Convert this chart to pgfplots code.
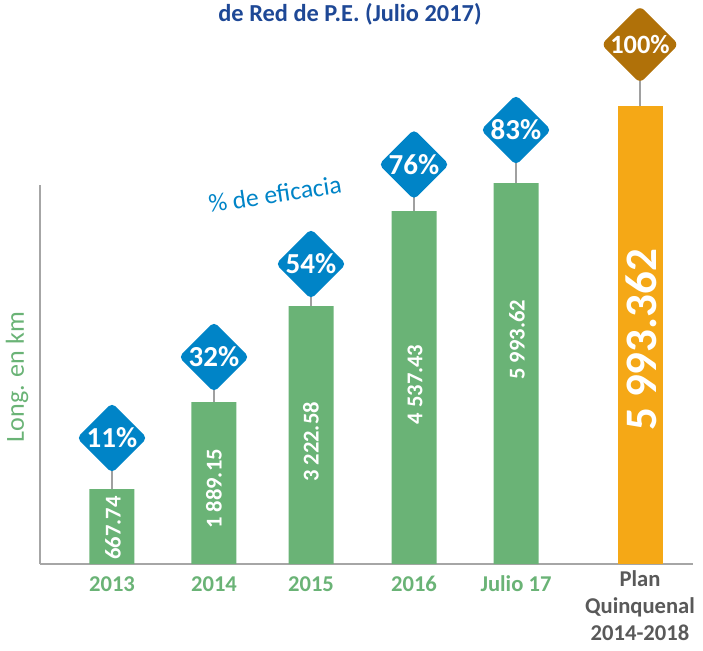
\documentclass[border=0pt]{standalone}
\usepackage{pgfplots}
\pgfplotsset{compat=1.18}
\usepackage{fontspec}
\setmainfont{Carlito}
\usetikzlibrary{shapes.geometric}
\definecolor{barg}{RGB}{106,179,118}
\definecolor{barorange}{RGB}{245,168,22}
\definecolor{dblue}{RGB}{0,132,199}
\definecolor{dbrown}{RGB}{176,113,9}
\definecolor{titleblue}{RGB}{30,72,150}
\definecolor{axgray}{RGB}{166,166,166}
\definecolor{conngray}{RGB}{160,160,160}
\definecolor{tgray}{RGB}{89,89,89}
\definecolor{tgreen}{RGB}{106,179,118}
\newcommand{\tl}[1]{\rule{0pt}{10.3pt}\color{tgreen}#1}
\begin{document}
\begin{tikzpicture}
\begin{axis}[
  x=0.5pt, y=0.5pt,
  xmin=40, xmax=693, ymin=0, ymax=379,
  axis x line=bottom, axis y line=left,
  axis line style={-, draw=axgray, line width=1.25pt},
  ytick=\empty,
  xtick={112,214,311,414,516,640},
  xticklabels={{\tl{2013}},{\tl{2014}},{\tl{2015}},{\tl{2016}},{\tl{Julio 17}},{\color{tgray}Plan\\\color{tgray}Quinquenal\\\color{tgray}2014-2018}},
  major tick length=0pt,
  xticklabel style={anchor=north, align=center, font=\bfseries\fontsize{11.3}{13.5}\selectfont, yshift=0pt},
  clip=false,
]
% connectors
\addplot[ycomb, draw=conngray, line width=1.3pt, mark=none] coordinates {
 (112,126) (214,207) (311,300) (414,399) (516,434) (640,519)
};
% bars
\addplot[ybar, bar width=45, fill=barg, draw=none] coordinates {
 (112,75) (214,162) (311,258) (414,353) (516,381)
};
\addplot[ybar, bar width=45, fill=barorange, draw=none] coordinates {
 (640,458)
};
% diamonds
\addplot[only marks, mark=*, mark size=0pt, point meta=explicit symbolic,
  nodes near coords,
  every node near coord/.style={diamond, fill=dblue, rounded corners=2.5pt,
    minimum width=31pt, minimum height=31pt, inner sep=0pt, anchor=center,
    text=white, font=\bfseries\fontsize{14.5}{15}\selectfont}]
 coordinates {
 (112,126) [11\%]
 (214,207) [32\%]
 (311,300) [54\%]
 (414,399.5) [76\%]
 (516,434) [83\%]
};
\addplot[only marks, mark=*, mark size=0pt, point meta=explicit symbolic,
  nodes near coords,
  every node near coord/.style={diamond, fill=dbrown, rounded corners=3pt,
    minimum width=37pt, minimum height=37pt, inner sep=0pt, anchor=center,
    text=white, font=\bfseries\fontsize{13.2}{14}\selectfont}]
 coordinates {
 (640,519.5) [100\%]
};
% bar value labels
\node[rotate=90, text=white, font=\bfseries\fontsize{11.3}{12}\selectfont] at (axis cs:113,36) {667.74};
\node[rotate=90, text=white, font=\bfseries\fontsize{11.3}{12}\selectfont] at (axis cs:214,75) {1 889.15};
\node[rotate=90, text=white, font=\bfseries\fontsize{11.3}{12}\selectfont] at (axis cs:311,122) {3 222.58};
\node[rotate=90, text=white, font=\bfseries\fontsize{11.3}{12}\selectfont] at (axis cs:415,179.5) {4 537.43};
\node[rotate=90, text=white, font=\bfseries\fontsize{11.3}{12}\selectfont] at (axis cs:517,224) {5 993.62};
\node[rotate=90, text=white, font=\bfseries\fontsize{22.5}{24}\selectfont] at (axis cs:641,224) {5 993.362};
% texts
\node[font=\bfseries\fontsize{12.2}{14}\selectfont, text=titleblue] at (axis cs:350,550) {de Red de P.E. (Julio 2017)};
\node[rotate=8.5, font=\fontsize{12.8}{14}\selectfont, text=dblue] at (axis cs:275,370) {\% de eficacia};
\node[rotate=90, font=\fontsize{13}{14}\selectfont, text=tgreen] at (axis cs:17,187) {Long. en km};
\coordinate (BL) at (axis cs:0,-86);
\coordinate (TR) at (axis cs:703,564);
\end{axis}
\pgfresetboundingbox
\useasboundingbox (BL) rectangle (TR);
\end{tikzpicture}
\end{document}
